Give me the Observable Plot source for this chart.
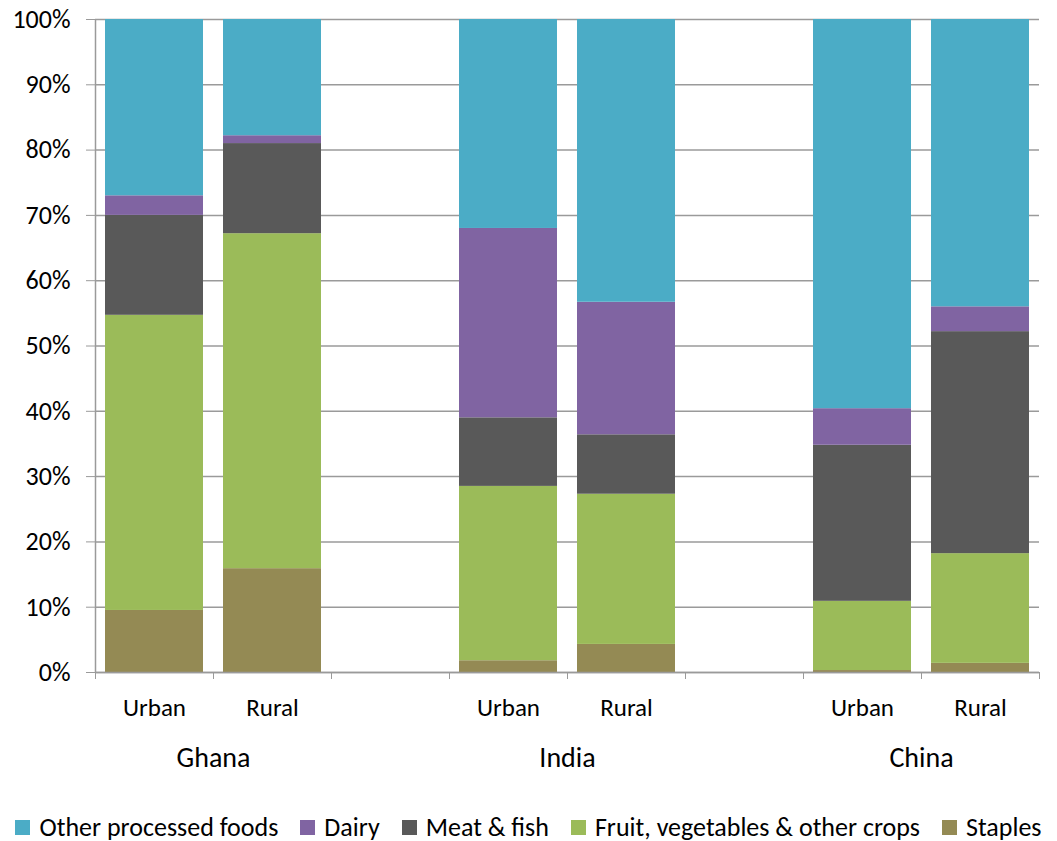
<!DOCTYPE html>
<html>
<head>
<meta charset="utf-8">
<script src="https://cdn.jsdelivr.net/npm/d3@7"></script>
<script src="https://cdn.jsdelivr.net/npm/@observablehq/plot@0.6"></script>
<style>
  html, body { margin: 0; background: #fff; font-family: Carlito, Lato, "Open Sans", sans-serif; overflow: hidden; }
  #legend { display: flex; justify-content: center; align-items: center; height: 26px; line-height: 1; margin-top: 29px; font-size: 26px; color: #000; gap: 22px; }
  #legend .item { display: flex; align-items: center; gap: 9px; }
  #legend .sw { width: 15px; height: 15px; display: inline-block; }
</style>
</head>
<body>
<div id="chart"></div>
<div id="legend"></div>
<script>
const countries = ["Ghana", "India", "China"];
const settings = ["Urban", "Rural"];
const categories = ["Staples", "Fruit, vegetables & other crops", "Meat & fish", "Dairy", "Other processed foods"];
const colors = ["#948A54", "#9BBB59", "#595959", "#8064A2", "#4BACC6"];
// bars in order: Ghana Urban, Ghana Rural, India Urban, India Rural, China Urban, China Rural (percent)
const staples = [9.5, 15.9, 1.8, 4.3, 0.3, 1.4];
const fruit   = [45.2, 51.3, 26.7, 23.0, 10.6, 16.8];
const meat    = [15.3, 13.8, 10.5, 9.1, 23.9, 34.0];
const dairy   = [3.0, 1.2, 29.0, 20.3, 5.6, 3.8];
const other   = [27.0, 17.8, 32.0, 43.3, 59.6, 44.0];
const yTicks = [0, 10, 20, 30, 40, 50, 60, 70, 80, 90, 100];

const series = [staples, fruit, meat, dairy, other];
const bars = [];
countries.forEach((c, ci) => settings.forEach((s, si) => bars.push({country: c, setting: s, slot: ci * 3 + si})));
const data = [];
series.forEach((vals, k) => bars.forEach((b, i) => data.push({...b, category: categories[k], value: vals[i]})));

const grid = "#9a9a9a";
const plot = Plot.plot({
  width: 1057,
  height: 785,
  marginLeft: 95,
  marginRight: 18,
  marginTop: 19,
  marginBottom: 113,
  style: {fontFamily: "Carlito, Lato, 'Open Sans', sans-serif", fontSize: "25px", color: "#000", background: "#fff", display: "block"},
  x: {domain: [0, 8], axis: null},
  y: {domain: [0, 100], axis: null},
  color: {domain: categories, range: colors},
  marks: [
    Plot.gridY(yTicks, {stroke: grid, strokeOpacity: 1, strokeWidth: 1.5}),
    Plot.rectY(data, Plot.stackY({
      x1: "slot", x2: d => d.slot + 1, y: "value", z: "category", fill: "category",
      insetLeft: 10, insetRight: 10
    })),
    Plot.ruleX([0], {stroke: grid, strokeWidth: 1.5}),
    Plot.ruleY([0], {stroke: grid, strokeWidth: 1.5}),
    Plot.axisY({ticks: yTicks, tickFormat: d => d + "%", tickSize: 9, tickPadding: 16, stroke: grid, fill: "#000", fontSize: 26, label: null}),
    Plot.axisX({ticks: d3.range(0, 9), tickFormat: () => "", tickSize: 7, stroke: grid, label: null}),
    Plot.text(bars, {x: d => d.slot + 0.5, y: 0, text: "setting", dy: 35, fill: "#000", fontSize: 25}),
    Plot.text(countries, {x: (d, i) => i * 3 + 1, y: 0, text: d => d, dy: 86, fill: "#000", fontSize: 28})
  ]
});
document.getElementById("chart").append(plot);

const legendOrder = [4, 3, 2, 1, 0];
const lg = document.getElementById("legend");
legendOrder.forEach(k => {
  const it = document.createElement("span");
  it.className = "item";
  const sw = document.createElement("span");
  sw.className = "sw";
  sw.style.background = colors[k];
  const t = document.createElement("span");
  t.textContent = categories[k];
  it.append(sw, t);
  lg.append(it);
});
</script>
</body>
</html>
